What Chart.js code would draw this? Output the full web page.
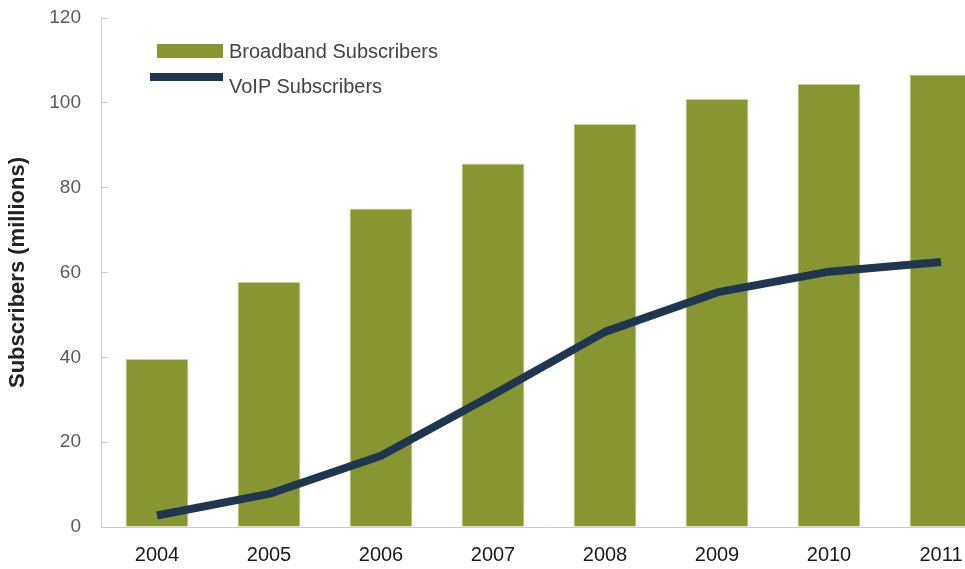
<!DOCTYPE html>
<html>
<head>
<meta charset="utf-8">
<script src="https://cdn.jsdelivr.net/npm/chart.js@4/dist/chart.umd.min.js"></script>
<style>
  html, body { margin: 0; padding: 0; background: #fff; overflow: hidden; }
  #wrap { position: relative; width: 997px; height: 569px; }
  #legend { position: absolute; left: 0; top: 0; width: 600px; height: 120px; font-family: "Liberation Sans", Arial, sans-serif; font-size: 20px; color: #444; }
  .swatch { position: absolute; }
  .label { position: absolute; left: 229px; line-height: 20px; white-space: nowrap; }
</style>
</head>
<body>
<div id="wrap">
  <canvas id="c" width="997" height="569"></canvas>
  <div id="legend"></div>
</div>
<script>
// Years on the category axis
const years = ['2004', '2005', '2006', '2007', '2008', '2009', '2010', '2011'];
// Broadband subscribers (millions)
const broadband = [39.6, 57.8, 75.1, 85.7, 95.0, 100.9, 104.5, 106.7];
// VoIP subscribers (millions)
const voip = [2.7, 7.8, 16.8, 31.2, 46.0, 55.3, 60.2, 62.5];
// Value-axis ticks
const yTicks = [0, 20, 40, 60, 80, 100, 120];

const OLIVE = '#879631';
const NAVY = '#1f3651';

const datasets = [
  {
    type: 'line',
    label: 'VoIP Subscribers',
    data: voip,
    borderColor: NAVY,
    backgroundColor: NAVY,
    borderWidth: 8,
    pointRadius: 0,
    tension: 0,
    borderJoinStyle: 'round',
    borderCapStyle: 'butt',
    order: 0
  },
  {
    type: 'bar',
    label: 'Broadband Subscribers',
    data: broadband,
    backgroundColor: OLIVE,
    borderColor: '#cfd5a6',
    borderWidth: 1,
    barPercentage: 0.5625,
    categoryPercentage: 1,
    order: 1
  }
];

new Chart(document.getElementById('c'), {
  data: { labels: years, datasets: datasets },
  options: {
    responsive: false,
    animation: false,
    devicePixelRatio: 1,
    layout: { padding: { top: 18, left: 0, right: 0, bottom: 0 } },
    plugins: { legend: { display: false }, tooltip: { enabled: false } },
    scales: {
      x: {
        type: 'category',
        grid: { display: true, drawOnChartArea: false, drawTicks: false },
        border: { color: '#cccccc', width: 1 },
        ticks: {
          color: '#1a1a1a',
          padding: 16,
          font: { family: '"Liberation Sans", Arial, sans-serif', size: 20 }
        },
        afterFit: s => { s.height = 42; }
      },
      y: {
        min: 0,
        max: 120,
        afterBuildTicks: s => { s.ticks = yTicks.map(v => ({ value: v })); },
        grid: { drawOnChartArea: false, drawTicks: true, tickLength: -7, color: '#cccccc' },
        border: { color: '#cccccc', width: 1 },
        ticks: {
          color: '#5a5a5a',
          padding: 27,
          font: { family: '"Liberation Sans", Arial, sans-serif', size: 19 }
        },
        title: {
          display: true,
          text: 'Subscribers (millions)',
          color: '#222',
          padding: { top: 5, bottom: 0 },
          font: { family: '"Liberation Sans", Arial, sans-serif', size: 22, weight: 'bold' }
        },
        afterFit: s => {
          s.width = 101;
          s.paddingTop = 0;
          s.paddingBottom = 0;
        }
      }
    }
  }
});

// Legend in the upper-left of the plot, built from the dataset definitions
const legendLayout = {
  'Broadband Subscribers': { sw: { left: 157, top: 44, width: 66, height: 14 }, textTop: 41 },
  'VoIP Subscribers': { sw: { left: 150, top: 73, width: 73, height: 8 }, textTop: 76 }
};
const legendEl = document.getElementById('legend');
['Broadband Subscribers', 'VoIP Subscribers'].forEach(name => {
  const ds = datasets.find(d => d.label === name);
  const pos = legendLayout[name];
  const sw = document.createElement('div');
  sw.className = 'swatch';
  Object.assign(sw.style, {
    left: pos.sw.left + 'px', top: pos.sw.top + 'px',
    width: pos.sw.width + 'px', height: pos.sw.height + 'px',
    background: ds.type === 'bar' ? ds.backgroundColor : ds.borderColor
  });
  const tx = document.createElement('div');
  tx.className = 'label';
  tx.style.top = pos.textTop + 'px';
  tx.textContent = ds.label;
  legendEl.appendChild(sw);
  legendEl.appendChild(tx);
});
</script>
</body>
</html>
